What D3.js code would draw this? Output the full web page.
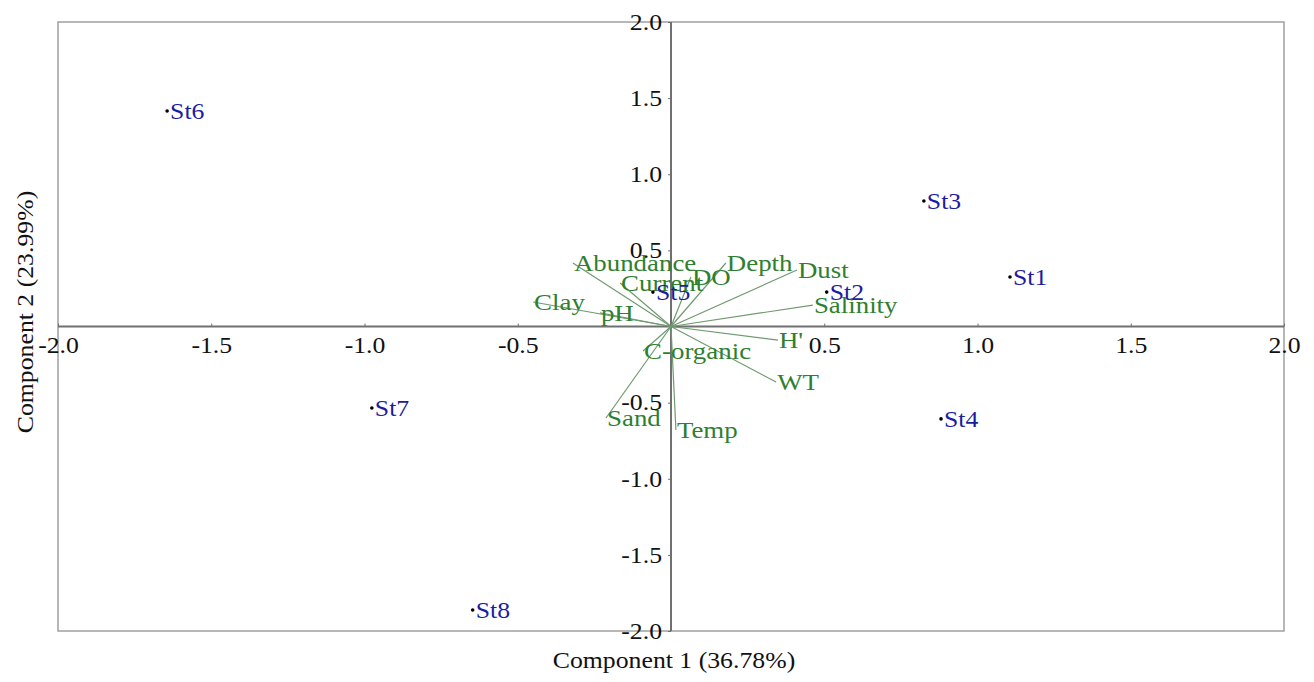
<!DOCTYPE html>
<html>
<head>
<meta charset="utf-8">
<script src="https://cdn.jsdelivr.net/npm/d3@7"></script>
<style>
  body { margin: 0; background: #fff; }
  text { font-family: "Liberation Serif", "Times New Roman", serif; }
</style>
</head>
<body>
<svg id="chart" width="1314" height="682"></svg>
<script>
// stations (scores)
const stations = ["St1", "St2", "St3", "St4", "St5", "St6", "St7", "St8"];
const stX = [1.106, 0.508, 0.825, 0.881, -0.059, -1.644, -0.976, -0.647];
const stY = [0.325, 0.226, 0.824, -0.607, 0.226, 1.415, -0.535, -1.862];

// variables (loadings)
const vars = ["Abundance", "Current", "Clay", "pH", "DO", "Depth", "Dust", "Salinity", "H'", "WT", "C-organic", "Sand", "Temp"];
const varX = [-0.320, -0.166, -0.450, -0.232, 0.065, 0.179, 0.411, 0.463, 0.349, 0.343, -0.091, -0.212, 0.016];
const varY = [0.417, 0.286, 0.161, 0.089, 0.325, 0.417, 0.371, 0.141, -0.089, -0.365, -0.161, -0.601, -0.680];

const xTicks = [-2.0, -1.5, -1.0, -0.5, 0.5, 1.0, 1.5, 2.0];
const yTicks = [-2.0, -1.5, -1.0, -0.5, 0.5, 1.0, 1.5, 2.0];

const svg = d3.select("#chart");
const m = {left: 58, right: 1284, top: 22, bottom: 631};
const stretch = "scale(1.12,1)";

const x = d3.scaleLinear().domain([-2, 2]).range([m.left, m.right]);
const y = d3.scaleLinear().domain([-2, 2]).range([m.bottom, m.top]);

// frame
svg.append("rect")
  .attr("x", m.left).attr("y", m.top)
  .attr("width", m.right - m.left).attr("height", m.bottom - m.top)
  .attr("fill", "none").attr("stroke", "#a0a0a0").attr("stroke-width", 1.5);

// axes through origin
const xAxis = svg.append("g")
  .attr("transform", `translate(0,${y(0)})`)
  .call(d3.axisBottom(x).tickValues(xTicks).tickFormat(d3.format(".1f"))
    .tickSizeInner(-3).tickSizeOuter(0).tickPadding(10));
const yAxis = svg.append("g")
  .attr("transform", `translate(${x(0)},0)`)
  .call(d3.axisLeft(y).tickValues(yTicks).tickFormat(d3.format(".1f"))
    .tickSizeInner(3).tickSizeOuter(0).tickPadding(5));

[xAxis, yAxis].forEach(a => {
  a.select(".domain").attr("stroke", "#707070").attr("stroke-width", 2);
  a.selectAll(".tick line").attr("stroke", "#707070");
  a.selectAll(".tick text")
    .attr("font-size", 23)
    .attr("fill", "#111")
    .attr("font-family", "Liberation Serif")
    .attr("transform", stretch)
    .text(d => d3.format(".1f")(d).replace("−", "-"));
});
xAxis.select(".domain").attr("d", `M${m.left},0H${m.right}`);
yAxis.select(".domain").attr("d", `M0,${m.top}V${m.bottom}`);

// loading vectors
const vIdx = d3.range(vars.length);
svg.append("g").selectAll("line")
  .data(vIdx).join("line")
  .attr("x1", x(0)).attr("y1", y(0))
  .attr("x2", i => x(varX[i])).attr("y2", i => y(varY[i]))
  .attr("stroke", "#6f9a6f").attr("stroke-width", 1.2);

svg.append("g").selectAll("g")
  .data(vIdx).join("g")
  .attr("transform", i => `translate(${x(varX[i]) + 1},${y(varY[i])})`)
  .append("text")
  .attr("transform", stretch)
  .attr("dy", "0.35em")
  .attr("font-size", 24)
  .attr("fill", "#2f7f2f")
  .text(i => vars[i]);

// station points
const sIdx = d3.range(stations.length);
svg.append("g").selectAll("circle")
  .data(sIdx).join("circle")
  .attr("cx", i => x(stX[i])).attr("cy", i => y(stY[i]))
  .attr("r", 1.8).attr("fill", "#000");

svg.append("g").selectAll("g")
  .data(sIdx).join("g")
  .attr("transform", i => `translate(${x(stX[i]) + 3},${y(stY[i])})`)
  .append("text")
  .attr("transform", stretch)
  .attr("dy", "0.35em")
  .attr("font-size", 23)
  .attr("fill", "#1c1ca0")
  .text(i => stations[i]);

// axis titles
svg.append("text")
  .attr("transform", `translate(674,668) ${stretch}`)
  .attr("text-anchor", "middle")
  .attr("font-size", 23)
  .attr("fill", "#111")
  .text("Component 1 (36.78%)");

svg.append("text")
  .attr("transform", `translate(33,312) rotate(-90) ${stretch}`)
  .attr("text-anchor", "middle")
  .attr("font-size", 23)
  .attr("fill", "#111")
  .text("Component 2 (23.99%)");
</script>
</body>
</html>
